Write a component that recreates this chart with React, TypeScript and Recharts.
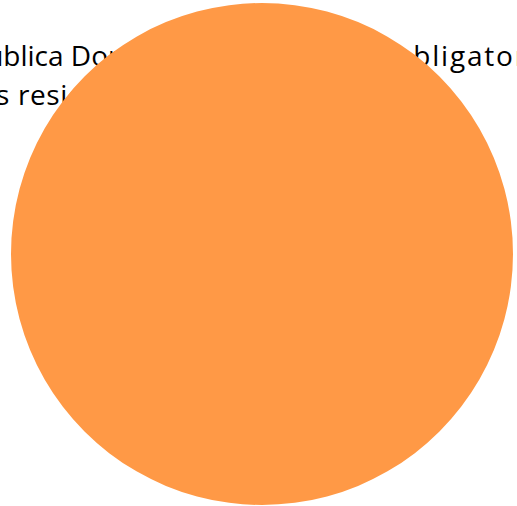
import React from 'react';
import { PieChart, Pie, Cell } from 'recharts';

// single category covers the whole pie
const categories = ['Total'];
const shares = [100];
const sliceColors = ['#ff9946'];

const titleLine1Start = 'República Dominicana: Aportes';
const titleLine1End = 'obligatorios de los';
const titleLine2 = 'los residentes del país';

const data = categories.map((name, i) => ({ name, value: shares[i] }));

const W = 517;
const H = 506;
const titleFont = '"Open Sans", "Noto Sans", sans-serif';

export default function App() {
  return (
    <div style={{ position: 'absolute', left: 0, top: 0, width: W, height: H, background: '#fff', overflow: 'hidden' }}>
      {/* title sits behind the pie and runs past both edges */}
      <svg width={W} height={H} style={{ position: 'absolute', left: 0, top: 0 }}>
        <text fontFamily={titleFont} fontSize={28} fill="#000">
          <tspan x={-64} y={66}>{titleLine1Start}</tspan>
          <tspan x={394.6} y={66} letterSpacing={1.8}>{titleLine1End}</tspan>
        </text>
        <text x={-29} y={105} fontFamily={titleFont} fontSize={28} fill="#000" letterSpacing={0.6}>
          {titleLine2}
        </text>
      </svg>
      <div style={{ position: 'absolute', left: 0, top: 0 }}>
        <PieChart width={W} height={H} margin={{ top: 0, right: 0, bottom: 0, left: 0 }}>
          <Pie
            data={data}
            dataKey="value"
            nameKey="name"
            cx={262}
            cy={254}
            outerRadius={251}
            startAngle={90}
            endAngle={-270}
            stroke="none"
            isAnimationActive={false}
          >
            {data.map((d, i) => (
              <Cell key={d.name} fill={sliceColors[i]} />
            ))}
          </Pie>
        </PieChart>
      </div>
    </div>
  );
}
